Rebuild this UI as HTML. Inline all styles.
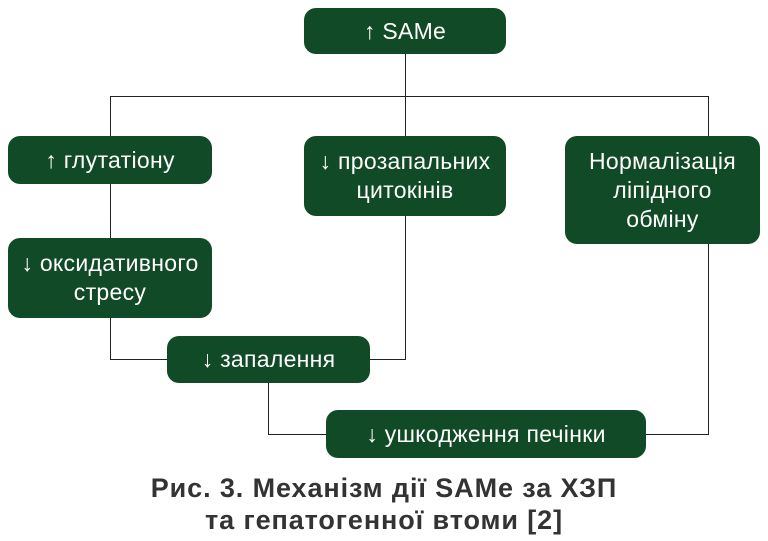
<!DOCTYPE html>
<html><head><meta charset="utf-8"><style>
body{margin:0;width:768px;height:541px;background:#fff;position:relative;overflow:hidden;font-family:"Liberation Sans","DejaVu Sans",sans-serif}
.b{position:absolute;background:#114a26;color:#fff;border-radius:12px;display:flex;align-items:center;justify-content:center;text-align:center;font-size:23px;line-height:29px;letter-spacing:0.3px;white-space:nowrap}
.l{position:absolute;background:#222}
.cap{position:absolute;left:0;width:768px;text-align:center;font-weight:bold;font-size:27px;color:#333;line-height:32px;letter-spacing:0.9px}
</style></head><body>
<div class="l" style="left:405px;top:54px;width:1px;height:42px"></div>
<div class="l" style="left:110px;top:96px;width:599px;height:1px"></div>
<div class="l" style="left:110px;top:96px;width:1px;height:40px"></div>
<div class="l" style="left:405px;top:96px;width:1px;height:40px"></div>
<div class="l" style="left:708px;top:96px;width:1px;height:40px"></div>
<div class="l" style="left:110px;top:184px;width:1px;height:54px"></div>
<div class="l" style="left:110px;top:318px;width:1px;height:41px"></div>
<div class="l" style="left:110px;top:359px;width:57px;height:1px"></div>
<div class="l" style="left:405px;top:216px;width:1px;height:143px"></div>
<div class="l" style="left:370px;top:359px;width:36px;height:1px"></div>
<div class="l" style="left:268px;top:383px;width:1px;height:51px"></div>
<div class="l" style="left:268px;top:434px;width:58px;height:1px"></div>
<div class="l" style="left:708px;top:244px;width:1px;height:190px"></div>
<div class="l" style="left:646px;top:434px;width:63px;height:1px"></div>
<div class="b" style="left:304px;top:8px;width:202px;height:46px">↑ SAMe</div>
<div class="b" style="left:8px;top:136px;width:204px;height:48px">↑ глутатіону</div>
<div class="b" style="left:304px;top:136px;width:202px;height:80px">↓ прозапальних<br>цитокінів</div>
<div class="b" style="left:565px;top:136px;width:195px;height:108px">Нормалізація<br>ліпідного<br>обміну</div>
<div class="b" style="left:8px;top:238px;width:204px;height:80px">↓ оксидативного<br>стресу</div>
<div class="b" style="left:167px;top:336px;width:203px;height:47px">↓ запалення</div>
<div class="b" style="left:326px;top:410px;width:320px;height:48px">↓ ушкодження печінки</div>
<div class="cap" style="top:472px">Рис. 3. Механізм дії SAMe за ХЗП</div>
<div class="cap" style="top:504px">та гепатогенної втоми [2]</div>
</body></html>
